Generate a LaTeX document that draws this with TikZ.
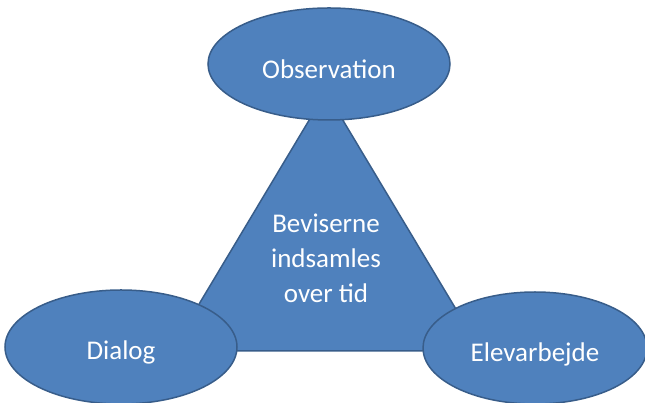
\documentclass[tikz,border=0pt]{standalone}
\usepackage{fontspec}
\setmainfont{Carlito}
\usepackage{tikz}
\usetikzlibrary{shapes.geometric}
\definecolor{fillblue}{HTML}{4F81BD}
\definecolor{edgeblue}{HTML}{385D8A}

\begin{document}
\begin{tikzpicture}[x=1pt,y=1pt,
  bluefill/.style={fill=fillblue,draw=edgeblue,line width=1.5pt},
  oval/.style={bluefill,ellipse,inner sep=0pt},
  whitetext/.style={text=white,font=\fontsize{27}{35}\selectfont,align=center}]
\useasboundingbox (0,0) rectangle (645,403);
\coordinate (t1) at (326,311) ;
\coordinate (t2) at (171,52) ;
\coordinate (t3) at (481,52) ;
\draw[bluefill,line join=round] (t1) -- (t2) -- (t3) -- cycle ;
\node (mid) [whitetext] at (326,145) {Beviserne\\indsamles\\over tid} ;
\node (obs) [oval,minimum width=242,minimum height=112] at (329,339) {} ;
\node (dia) [oval,minimum width=232,minimum height=114] at (121,56) {} ;
\node (elev) [oval,minimum width=224,minimum height=112] at (535,55) {} ;
\node (obstxt) [whitetext] at (329,334) {Observation} ;
\node (diatxt) [whitetext] at (121,51) {Dialog} ;
\node (elevtxt) [whitetext] at (535,49) {Elevarbejde} ;
\end{tikzpicture}
\end{document}
